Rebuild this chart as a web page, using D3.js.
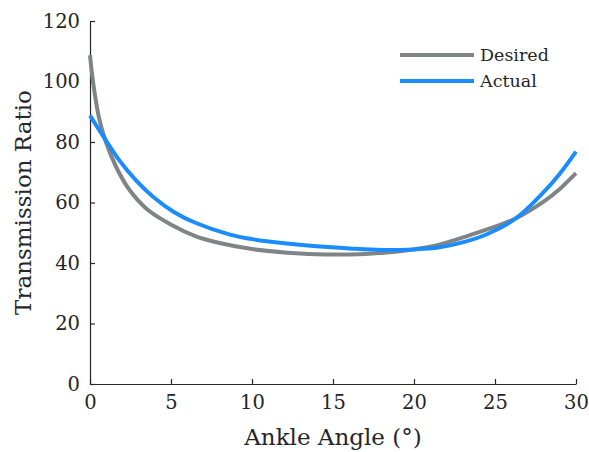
<!DOCTYPE html>
<html>
<head>
<meta charset="utf-8">
<script src="https://cdn.jsdelivr.net/npm/d3@7"></script>
<style>
  body { margin: 0; background: #fff; }
  text { font-family: "DejaVu Serif", serif; fill: #262626; }
</style>
</head>
<body>
<svg></svg>
<script>
// data
const desiredAngle = [0, 0.2, 0.54, 0.95, 1.6, 2.43, 3.56, 5.1, 6.5, 8, 10, 12, 14, 15, 17, 19, 20, 21.5, 23.5, 25, 26.3, 28, 29, 30];
const desiredRatio = [108.7, 99.4, 88.4, 80.5, 71.9, 64.2, 57.6, 52.4, 48.9, 46.6, 44.6, 43.5, 42.9, 42.8, 43.0, 43.8, 44.5, 46, 49.3, 52, 54.8, 60.3, 64.5, 69.7];
const actualAngle = [0, 1, 1.8, 2.84, 3.87, 5.2, 6.5, 8.64, 10, 12, 14, 16, 18, 20, 21.5, 23, 24.5, 26.3, 28, 29, 30];
const actualRatio = [88.7, 80.4, 74, 67.3, 62, 56.8, 53.3, 49.4, 47.9, 46.5, 45.5, 44.8, 44.3, 44.5, 45.1, 46.8, 49.5, 54.8, 63.4, 69.5, 76.8];
const xTicks = [0, 5, 10, 15, 20, 25, 30];
const yTicks = [0, 20, 40, 60, 80, 100, 120];
const seriesNames = ['Desired', 'Actual'];
const seriesColors = ['#7f8587', '#1a8cff'];

const size = {w: 589, h: 452};
const margin = {t: 21, r: 13, b: 68, l: 90};
const svg = d3.select('svg').attr('width', size.w).attr('height', size.h);

const x = d3.scaleLinear().domain([0, 30]).range([margin.l, size.w - margin.r]);
const y = d3.scaleLinear().domain([0, 120]).range([size.h - margin.b, margin.t]);

// axes (ticks point inward)
const xAxis = svg.append('g')
    .attr('transform', `translate(0,${y(0)})`)
    .call(d3.axisBottom(x).tickValues(xTicks).tickSizeInner(-5).tickSizeOuter(0).tickPadding(11));
const yAxis = svg.append('g')
    .attr('transform', `translate(${x(0)},0)`)
    .call(d3.axisLeft(y).tickValues(yTicks).tickSizeInner(-5).tickSizeOuter(0).tickPadding(10));

[xAxis, yAxis].forEach(g => {
    g.attr('font-family', null);
    g.select('.domain').attr('stroke', '#262626').attr('stroke-width', 1.2);
    g.selectAll('.tick line').attr('stroke', '#262626').attr('stroke-width', 1.2);
    g.selectAll('.tick text').attr('font-size', 19.5).attr('fill', '#262626');
});

// lines
const line = d3.line()
    .x(d => x(d[0]))
    .y(d => y(d[1]))
    .curve(d3.curveCatmullRom.alpha(0.5));

const series = [
    d3.zip(desiredAngle, desiredRatio),
    d3.zip(actualAngle, actualRatio)
];

svg.append('g').selectAll('path')
    .data(series)
    .join('path')
    .attr('d', line)
    .attr('fill', 'none')
    .attr('stroke', (d, i) => seriesColors[i])
    .attr('stroke-width', 4);

// legend
const legend = svg.append('g').attr('transform', 'translate(400,55)');
seriesNames.forEach((name, i) => {
    const row = legend.append('g').attr('transform', `translate(0,${i * 26})`);
    row.append('line').attr('x1', 0).attr('x2', 74).attr('y1', 0).attr('y2', 0)
        .attr('stroke', seriesColors[i]).attr('stroke-width', 4);
    row.append('text').attr('x', 80).attr('y', 6).attr('font-size', 17.5).text(name);
});

// axis titles
svg.append('text')
    .attr('x', x(15)).attr('y', 445)
    .attr('text-anchor', 'middle')
    .attr('font-size', 23)
    .text('Ankle Angle (°)');

svg.append('text')
    .attr('transform', `translate(31,${y(60)}) rotate(-90)`)
    .attr('text-anchor', 'middle')
    .attr('font-size', 23)
    .text('Transmission Ratio');
</script>
</body>
</html>
